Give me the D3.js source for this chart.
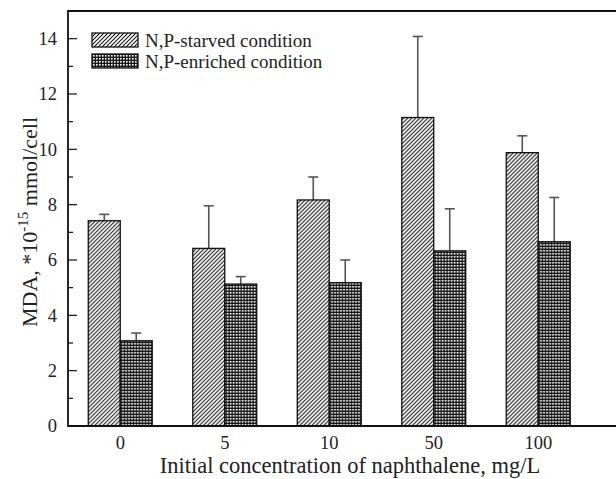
<!DOCTYPE html>
<html>
<head>
<meta charset="utf-8">
<script src="https://cdn.jsdelivr.net/npm/d3@7"></script>
<style>
  body { margin: 0; background: #fff; }
  svg { display: block; font-family: "Liberation Serif", "Times New Roman", serif; }
</style>
</head>
<body>
<svg id="chart" width="616" height="479"></svg>
<script>
const categories = ["0", "5", "10", "50", "100"];
const starved = [7.42, 6.42, 8.17, 11.15, 9.88];
const starvedErr = [0.23, 1.54, 0.83, 2.93, 0.61];
const enriched = [3.08, 5.13, 5.18, 6.33, 6.66];
const enrichedErr = [0.28, 0.27, 0.82, 1.52, 1.6];
const yTicks = [0, 2, 4, 6, 8, 10, 12, 14];
const seriesNames = ["N,P-starved condition", "N,P-enriched condition"];

const svg = d3.select("#chart");
const mLeft = 68, mTop = 11, mBottom = 426;

const defs = svg.append("defs");
const hatch = defs.append("pattern")
  .attr("id", "hatch")
  .attr("patternUnits", "userSpaceOnUse")
  .attr("width", 4).attr("height", 4);
hatch.append("rect").attr("width", 4).attr("height", 4).attr("fill", "#fff");
hatch.append("path")
  .attr("d", "M-1,1 l2,-2 M0,4 l4,-4 M3,5 l2,-2")
  .attr("stroke", "#111").attr("stroke-width", 1.05);

// dark mesh with white dots
const cross = defs.append("pattern")
  .attr("id", "cross")
  .attr("patternUnits", "userSpaceOnUse")
  .attr("width", 3).attr("height", 3);
cross.append("rect").attr("width", 3).attr("height", 3).attr("fill", "#1a1a1a");
cross.append("rect").attr("x", 1).attr("y", 1).attr("width", 1.6).attr("height", 1.6).attr("fill", "#fff");

const fills = ["url(#hatch)", "url(#cross)"];

const y = d3.scaleLinear().domain([0, 15]).range([mBottom, mTop]);

const x = d3.scaleBand()
  .domain(categories)
  .range([mLeft, mLeft + 522.5])
  .paddingInner(0.388)
  .paddingOuter(0.194);

const x1 = d3.scaleBand()
  .domain([0, 1])
  .range([0, x.bandwidth()]);

const rows = categories.map((c, i) => ({
  cat: c,
  vals: [
    { s: 0, v: starved[i], e: starvedErr[i] },
    { s: 1, v: enriched[i], e: enrichedErr[i] }
  ]
}));

const groups = svg.append("g")
  .selectAll("g")
  .data(rows)
  .join("g")
    .attr("transform", d => `translate(${x(d.cat)},0)`);

// error bars first so the bar outline sits over them
groups.selectAll(".err")
  .data(d => d.vals)
  .join("g")
    .attr("class", "err")
    .attr("stroke", "#555")
    .attr("stroke-width", 1.6)
    .each(function(d) {
      const g = d3.select(this);
      const cx = x1(d.s) + x1.bandwidth() / 2;
      g.append("line")
        .attr("x1", cx).attr("x2", cx)
        .attr("y1", y(d.v)).attr("y2", y(d.v + d.e));
      g.append("line")
        .attr("x1", cx - 5).attr("x2", cx + 5)
        .attr("y1", y(d.v + d.e)).attr("y2", y(d.v + d.e));
    });

groups.selectAll("rect")
  .data(d => d.vals)
  .join("rect")
    .attr("x", d => x1(d.s))
    .attr("width", x1.bandwidth())
    .attr("y", d => y(d.v))
    .attr("height", d => y(0) - y(d.v))
    .attr("fill", d => fills[d.s])
    .attr("stroke", "#111")
    .attr("stroke-width", 1.3);

// frame
svg.append("path")
  .attr("d", `M630,${mTop}H${mLeft}V${mBottom}H630`)
  .attr("fill", "none")
  .attr("stroke", "#111")
  .attr("stroke-width", 1.8);

// y axis ticks (inward)
const yAxis = svg.append("g").attr("transform", `translate(${mLeft},0)`);
yAxis.selectAll(".minor")
  .data(d3.range(1, 15, 2))
  .join("line")
    .attr("class", "minor")
    .attr("x1", 0).attr("x2", 5)
    .attr("y1", d => y(d)).attr("y2", d => y(d))
    .attr("stroke", "#111").attr("stroke-width", 1.2);
yAxis.selectAll(".major")
  .data(yTicks)
  .join("line")
    .attr("class", "major")
    .attr("x1", 0).attr("x2", 9)
    .attr("y1", d => y(d)).attr("y2", d => y(d))
    .attr("stroke", "#111").attr("stroke-width", 1.2);
yAxis.selectAll("text")
  .data(yTicks)
  .join("text")
    .attr("x", -11)
    .attr("y", d => y(d))
    .attr("dy", "0.35em")
    .attr("text-anchor", "end")
    .attr("font-size", 18.5)
    .attr("fill", "#222")
    .text(d => d);

// x tick labels
svg.append("g")
  .selectAll("text")
  .data(categories)
  .join("text")
    .attr("x", d => x(d) + x.bandwidth() / 2)
    .attr("y", 449)
    .attr("text-anchor", "middle")
    .attr("font-size", 18.5)
    .attr("fill", "#222")
    .text(d => d);

svg.append("text")
  .attr("x", 350)
  .attr("y", 473)
  .attr("text-anchor", "middle")
  .attr("font-size", 22.5)
  .attr("fill", "#222")
  .text("Initial concentration of naphthalene, mg/L");

const yTitle = svg.append("text")
  .attr("transform", "translate(37,222) rotate(-90)")
  .attr("text-anchor", "middle")
  .attr("font-size", 22)
  .attr("fill", "#222");
yTitle.append("tspan").text("MDA, *10");
yTitle.append("tspan").attr("font-size", 15).attr("dy", -9).text("-15");
yTitle.append("tspan").attr("dy", 9).text(" mmol/cell");

// legend
const legend = svg.append("g")
  .selectAll("g")
  .data(seriesNames)
  .join("g")
    .attr("transform", (d, i) => `translate(92,${33 + i * 21})`);
legend.append("rect")
  .attr("width", 46).attr("height", 14)
  .attr("fill", (d, i) => fills[i])
  .attr("stroke", "#111").attr("stroke-width", 1.3);
legend.append("text")
  .attr("x", 53).attr("y", 7)
  .attr("dy", "0.35em")
  .attr("font-size", 19)
  .attr("fill", "#222")
  .text(d => d);
</script>
</body>
</html>
